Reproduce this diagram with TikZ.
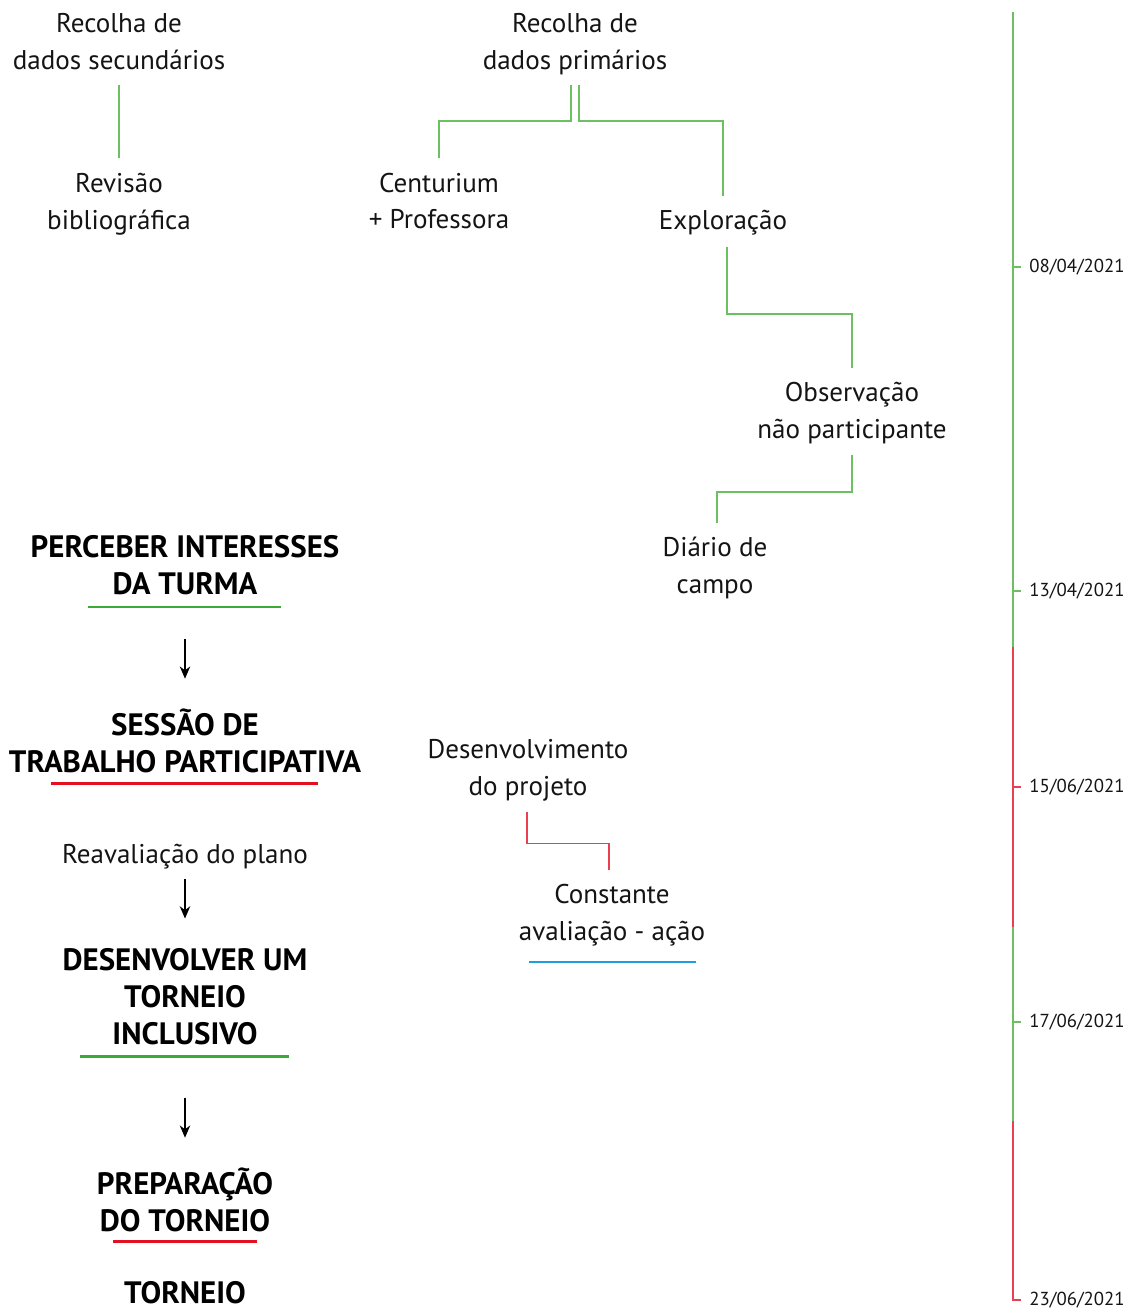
\documentclass[tikz,border=0pt]{standalone}
\usepackage{fontspec}
\setmainfont{PT Sans}
\usetikzlibrary{arrows.meta, positioning}
\definecolor{lngreen}{RGB}{108,192,98}
\definecolor{lnred}{RGB}{232,64,80}
\definecolor{ulgreen}{RGB}{60,170,55}
\definecolor{ulred}{RGB}{226,16,32}
\definecolor{ulblue}{RGB}{30,158,224}
\definecolor{txtdark}{RGB}{20,20,20}
\tikzset{
  txt/.style={align=center, inner sep=0pt, text=txtdark,
    font=\fontsize{15.4}{21}\selectfont},
  head/.style={align=center, inner sep=0pt, text=black,
    font=\fontsize{17.6}{21}\selectfont\bfseries},
  datelbl/.style={anchor=west, inner sep=0pt, text=txtdark,
    font=\fontsize{10.7}{13}\selectfont},
  conn/.style={lngreen, line width=0.8pt},
  redconn/.style={lnred, line width=0.8pt},
  uline/.style={line width=1.4pt},
  tline/.style={line width=0.9pt},
  arrow/.style={-{Stealth[length=7pt,width=6pt]}, line width=0.6pt, black}
}

\begin{document}
\begin{tikzpicture}[x=0.02cm, y=-0.02cm]
  \useasboundingbox (0,0) rectangle (1131,1312);

  % Recolha de dados
  \node[txt] (sec) at (119,42) {Recolha de\\dados secundários};
  \node[txt] (rev) at (119,204) {Revisão\\bibliográfica};
  \node[txt] (prim) at (575,44) {Recolha de\\dados primários};
  \node[txt] (cent) at (439,201) {Centurium\\+ Professora};
  \node[txt] (expl) at (723,223) {Exploração};
  \node[txt] (obs) at (852,413) {Observação\\não participante};
  \node[txt] (diar) at (715,568) {Diário de\\campo};

  \draw[conn] ([shift={(0,14)}]sec.south) -- ([shift={(0,-15)}]rev.north);
  \draw[conn] ([shift={(-4,10)}]prim.south) -- ++(0,36) -| ([shift={(0,-14)}]cent.north);
  \draw[conn] ([shift={(4,10)}]prim.south) -- ++(0,36) -| ([shift={(0,-14)}]expl.north);
  \draw[conn] ([shift={(4,11)}]expl.south) -- ++(0,67) -| ([shift={(0,-14)}]obs.north);
  \draw[conn] ([shift={(0,11)}]obs.south) -- ++(0,37) -| ([shift={(2,-14)}]diar.north);

  % Etapas
  \node[head] (perc) at (185,565) {PERCEBER INTERESSES\\DA TURMA};
  \node[head] (sess) at (185,741) {SESSÃO DE\\TRABALHO PARTICIPATIVA};
  \node[txt] (reav) at (185,857) {Reavaliação do plano};
  \node[head] (dese) at (185,997) {DESENVOLVER UM\\TORNEIO\\INCLUSIVO};
  \node[head] (prep) at (185,1200) {PREPARAÇÃO\\DO TORNEIO};
  \node[head] (torn) at (185,1293) {TORNEIO};

  \draw[uline, ulgreen] ([shift={(-97,12)}]perc.south) -- ++(193,0);
  \draw[uline, ulred] ([shift={(-134,10)}]sess.south) -- ++(267,0);
  \draw[uline, ulgreen] ([shift={(-105,11)}]dese.south) -- ++(209,0);
  \draw[uline, ulred] ([shift={(-72,9)}]prep.south) -- ++(144,0);

  \draw[arrow] ([shift={(0,44)}]perc.south) -- ([shift={(0,-30)}]sess.north);
  \draw[arrow] ([shift={(0,9)}]reav.south) -- ([shift={(0,-30)}]dese.north);
  \draw[arrow] ([shift={(0,52)}]dese.south) -- ([shift={(0,-30)}]prep.north);

  % Desenvolvimento
  \node[txt] (proj) at (528,770) {Desenvolvimento\\do projeto};
  \node[txt] (aval) at (612,915) {Constante\\avaliação - ação};
  \draw[redconn] ([shift={(-1,11)}]proj.south) -- ++(0,31) -| ([shift={(-3,-14)}]aval.north);
  \draw[uline, ulblue] ([shift={(-83,16)}]aval.south) -- ++(167,0);

  % Linha temporal
  \draw[tline, lngreen] (1013,12) -- (1013,647);
  \draw[tline, lnred] (1013,647) -- (1013,927);
  \draw[tline, lngreen] (1013,927) -- (1013,1121);
  \draw[tline, lnred] (1013,1121) -- (1013,1300) -- (1021,1300);

  \node[datelbl] (d1) at (1029,267) {08/04/2021};
  \node[datelbl] (d2) at (1029,591) {13/04/2021};
  \node[datelbl] (d3) at (1029,787) {15/06/2021};
  \node[datelbl] (d4) at (1029,1022) {17/06/2021};
  \node[datelbl] (d5) at (1029,1300) {23/06/2021};

  \draw[tline, lngreen] ([shift={(-16,0)}]d1.west) -- ++(8,0);
  \draw[tline, lngreen] ([shift={(-16,0)}]d2.west) -- ++(8,0);
  \draw[tline, lnred] ([shift={(-16,0)}]d3.west) -- ++(8,0);
  \draw[tline, lngreen] ([shift={(-16,0)}]d4.west) -- ++(8,0);
\end{tikzpicture}
\end{document}
